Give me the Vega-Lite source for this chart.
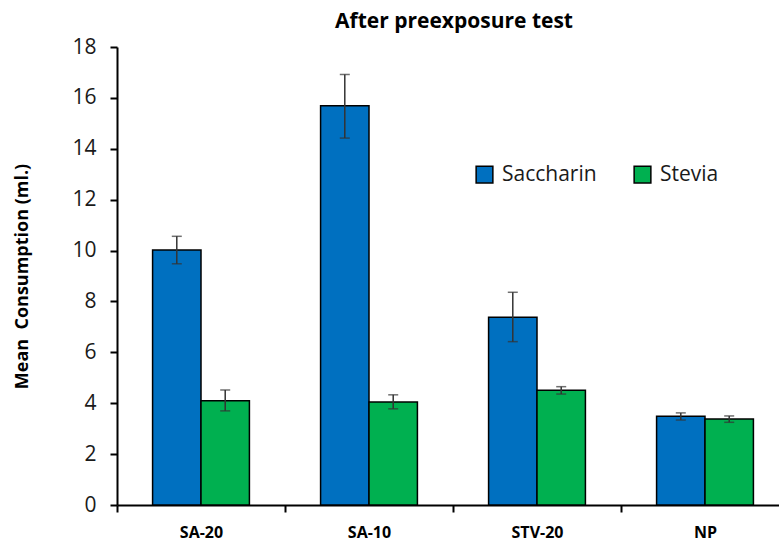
{
  "$schema": "https://vega.github.io/schema/vega-lite/v6.json",
  "autosize": {"type": "none"},
  "width": 662,
  "height": 458,
  "padding": {"left": 117, "top": 47, "right": 0, "bottom": 41},
  "background": "white",
  "title": {
    "text": "After preexposure test",
    "font": "Open Sans",
    "fontSize": 21,
    "fontWeight": "bold",
    "color": "#000000",
    "anchor": "middle",
    "dx": 6,
    "offset": 4
  },
  "config": {
    "view": {"stroke": null},
    "font": "Open Sans"
  },
  "data": {
    "values": [
      {"group": "SA-20", "sugar": "Saccharin", "mean": 10.02, "lo": 9.48, "hi": 10.56},
      {"group": "SA-20", "sugar": "Stevia", "mean": 4.10, "lo": 3.70, "hi": 4.52},
      {"group": "SA-10", "sugar": "Saccharin", "mean": 15.69, "lo": 14.42, "hi": 16.92},
      {"group": "SA-10", "sugar": "Stevia", "mean": 4.05, "lo": 3.78, "hi": 4.33},
      {"group": "STV-20", "sugar": "Saccharin", "mean": 7.38, "lo": 6.42, "hi": 8.36},
      {"group": "STV-20", "sugar": "Stevia", "mean": 4.51, "lo": 4.36, "hi": 4.65},
      {"group": "NP", "sugar": "Saccharin", "mean": 3.49, "lo": 3.34, "hi": 3.62},
      {"group": "NP", "sugar": "Stevia", "mean": 3.38, "lo": 3.25, "hi": 3.50}
    ]
  },
  "encoding": {
    "x": {
      "field": "group",
      "type": "nominal",
      "sort": ["SA-20", "SA-10", "STV-20", "NP"],
      "scale": {"range": [0, 672], "paddingInner": 0, "paddingOuter": 0},
      "axis": {
        "title": null,
        "labelAngle": 0,
        "labelFont": "Open Sans",
        "labelFontSize": 16,
        "labelFontWeight": "bold",
        "labelColor": "#000000",
        "labelPadding": 12,
        "tickBand": "extent",
        "tickSize": 7,
        "tickWidth": 2,
        "tickColor": "#000000",
        "domainColor": "#000000",
        "domainWidth": 2
      }
    },
    "xOffset": {
      "field": "sugar",
      "type": "nominal",
      "sort": ["Saccharin", "Stevia"],
      "scale": {"paddingInner": 0, "paddingOuter": 0.735}
    }
  },
  "layer": [
    {
      "mark": {"type": "bar", "stroke": "#000000", "strokeWidth": 1.5},
      "encoding": {
        "y": {
          "field": "mean",
          "type": "quantitative",
          "scale": {"domain": [0, 18], "nice": false},
          "axis": {
            "title": "Mean\u00a0 Consumption (ml.)",
            "titleFont": "Open Sans",
            "titleFontSize": 18,
            "titleFontWeight": "bold",
            "titleColor": "#000000",
            "titlePadding": 40,
            "values": [0, 2, 4, 6, 8, 10, 12, 14, 16, 18],
            "grid": false,
            "labelFont": "Open Sans",
            "labelFontSize": 21,
            "labelColor": "#1a1a1a",
            "labelPadding": 14,
            "tickSize": 7,
            "tickWidth": 2,
            "tickColor": "#000000",
            "domainColor": "#000000",
            "domainWidth": 2
          }
        },
        "fill": {
          "field": "sugar",
          "type": "nominal",
          "scale": {"domain": ["Saccharin", "Stevia"], "range": ["#0070C0", "#00B050"]},
          "legend": {
            "title": null,
            "orient": "none",
            "legendX": 357,
            "legendY": 117,
            "direction": "horizontal",
            "symbolType": "square",
            "symbolSize": 280,
            "symbolStrokeColor": "#000000",
            "symbolStrokeWidth": 1.5,
            "labelFont": "Open Sans",
            "labelFontSize": 21,
            "labelColor": "#1a1a1a",
            "labelOffset": 7,
            "columnPadding": 34,
            "labelLimit": 200
          }
        }
      }
    },
    {
      "mark": {"type": "rule", "color": "#333333", "strokeWidth": 1.5},
      "encoding": {
        "y": {"field": "lo", "type": "quantitative"},
        "y2": {"field": "hi"}
      }
    },
    {
      "mark": {"type": "tick", "orient": "horizontal", "color": "#333333", "size": 10, "thickness": 1.5},
      "encoding": {
        "y": {"field": "lo", "type": "quantitative"}
      }
    },
    {
      "mark": {"type": "tick", "orient": "horizontal", "color": "#333333", "size": 10, "thickness": 1.5},
      "encoding": {
        "y": {"field": "hi", "type": "quantitative"}
      }
    }
  ]
}
